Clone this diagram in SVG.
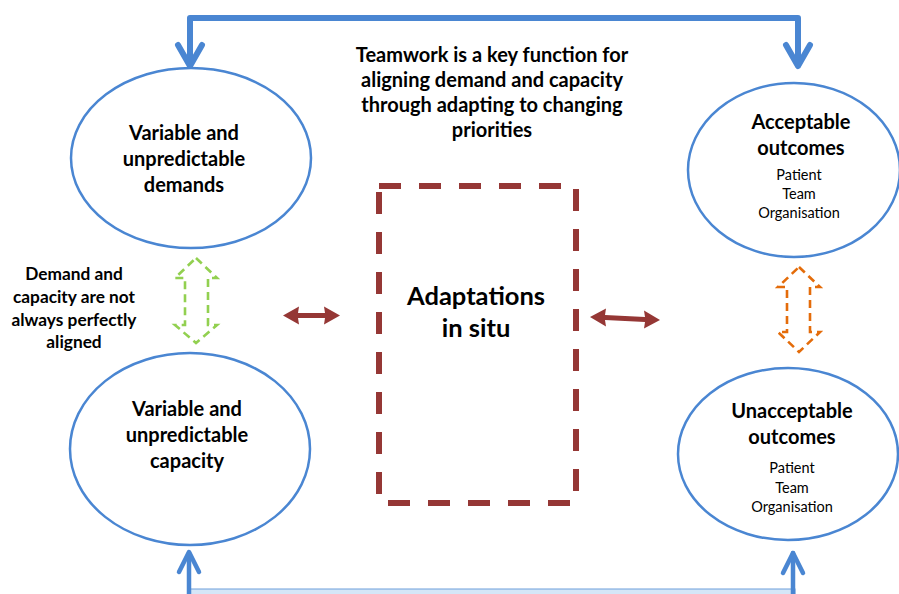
<svg xmlns="http://www.w3.org/2000/svg" width="899" height="594" viewBox="0 0 899 594">
<style>
.t{font-family:Lato,"Open Sans","Liberation Sans",sans-serif;fill:#000;text-anchor:middle}
.b{font-weight:bold;font-size:20px}
.s{font-size:14.5px}
.m{font-weight:bold;font-size:17.3px}
.ell{fill:#fff;stroke:#4A86D2;stroke-width:2.5}
.blue{fill:none;stroke:#4A86D2;stroke-linejoin:round;stroke-linecap:round}
.red{fill:#953735}
</style>
<rect width="899" height="594" fill="#fff"/>
<g id="connectors">
  <polyline class="blue" stroke-width="6" stroke-linecap="butt" points="190,65 190,18 798,18 798,65"/>
  <polyline class="blue" stroke-width="6" points="178,45 190,66 202,45"/>
  <polyline class="blue" stroke-width="6" points="786,45 798,66 810,45"/>
  <rect x="188" y="589" width="607" height="8" fill="#D5E6F7" stroke="#6E9FDB" stroke-width="1"/>
  <line class="blue" stroke-width="4.5" x1="189" y1="553" x2="189" y2="594"/>
  <polyline class="blue" stroke-width="4.5" points="179,572 189,552 199,572"/>
  <line class="blue" stroke-width="4.5" x1="793" y1="553" x2="793" y2="594"/>
  <polyline class="blue" stroke-width="4.5" points="783,573 793,553 803,573"/>
  <polygon class="red" points="283,315.5 299,306.5 298,313 325,313 324,306.5 340,315.5 324,324.5 325,318 298,318 299,324.5"/>
  <polygon class="red" points="590,317 606,308.5 605,315 645,317 644,310.5 660,320 644,328.5 645,322 605,320 606,326.5"/>
  <polygon fill="none" stroke="#92D050" stroke-width="2.6" stroke-dasharray="8,5" points="196,258 217,278 208,278 208,325 217,325 196,343 175,325 185,325 185,278 175,278"/>
  <polygon fill="none" stroke="#E46C0A" stroke-width="2.6" stroke-dasharray="8,5" points="799,267 820,287 810,287 810,332 820,332 799,352 778,332 787,332 787,287 778,287"/>
</g>
<g id="title">
  <text class="t b" x="492" y="62">Teamwork is a key function for</text>
  <text class="t b" x="492" y="87">aligning demand and capacity</text>
  <text class="t b" x="492" y="112">through adapting to changing</text>
  <text class="t b" x="492" y="137">priorities</text>
</g>
<g id="demands">
  <ellipse class="ell" cx="191" cy="158" rx="120" ry="90"/>
  <text class="t b" x="184" y="140">Variable and</text>
  <text class="t b" x="184" y="166">unpredictable</text>
  <text class="t b" x="184" y="192">demands</text>
</g>
<g id="capacity">
  <ellipse class="ell" cx="190" cy="449" rx="120" ry="96"/>
  <text class="t b" x="187" y="416">Variable and</text>
  <text class="t b" x="187" y="442">unpredictable</text>
  <text class="t b" x="187" y="468">capacity</text>
</g>
<g id="misalign">
  <text class="t m" x="74" y="280">Demand and</text>
  <text class="t m" x="74" y="303">capacity are not</text>
  <text class="t m" x="74" y="326">always perfectly</text>
  <text class="t m" x="74" y="348">aligned</text>
</g>
<g id="adaptations">
  <rect x="379" y="186" width="197" height="317" fill="none" stroke="#953735" stroke-width="6" stroke-dasharray="22,18"/>
  <text class="t" x="476" y="305" font-weight="bold" font-size="25.5">Adaptations</text>
  <text class="t" x="476" y="337" font-weight="bold" font-size="25.5">in situ</text>
</g>
<g id="acceptable">
  <ellipse class="ell" cx="794" cy="170" rx="106" ry="87"/>
  <text class="t b" x="801" y="129">Acceptable</text>
  <text class="t b" x="801" y="155">outcomes</text>
  <text class="t s" x="799" y="180">Patient</text>
  <text class="t s" x="799" y="199">Team</text>
  <text class="t s" x="799" y="218">Organisation</text>
</g>
<g id="unacceptable">
  <ellipse class="ell" cx="788" cy="454" rx="110" ry="86"/>
  <text class="t b" x="792" y="418">Unacceptable</text>
  <text class="t b" x="792" y="444">outcomes</text>
  <text class="t s" x="792" y="473">Patient</text>
  <text class="t s" x="792" y="493">Team</text>
  <text class="t s" x="792" y="512">Organisation</text>
</g>
</svg>
